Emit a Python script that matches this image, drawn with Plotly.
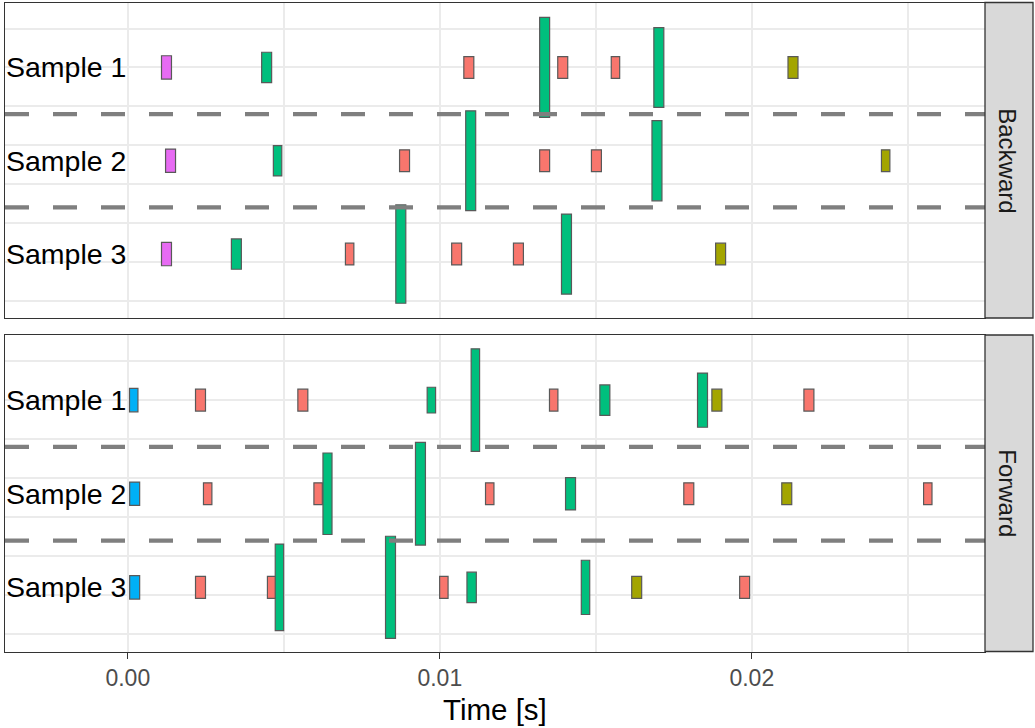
import plotly.graph_objects as go

# ---------------- data ----------------
samples = ["Sample 1", "Sample 2", "Sample 3"]
facets = ["Backward", "Forward"]
kind_colors = {"A": "#F8766D", "B": "#A3A500", "C": "#00BF7D", "D": "#00B0F6", "E": "#E76BF3"}

# Backward facet
bw_sample = [1, 1, 1, 1, 1, 1, 1, 1,
             2, 2, 2, 2, 2, 2, 2, 2,
             3, 3, 3, 3, 3, 3, 3, 3]
bw_kind = ["E", "C", "A", "C", "A", "A", "C", "B",
           "E", "C", "A", "C", "A", "A", "C", "B",
           "E", "C", "A", "C", "A", "A", "C", "B"]
bw_time = [0.00124, 0.00445, 0.01093, 0.01336, 0.01394, 0.01563, 0.01702, 0.02132,
           0.00137, 0.00480, 0.00887, 0.01099, 0.01336, 0.01502, 0.01696, 0.02429,
           0.00124, 0.00348, 0.00711, 0.00875, 0.01054, 0.01252, 0.01406, 0.01900]
bw_dur = [0.00032, 0.00032, 0.00032, 0.00032, 0.00032, 0.00027, 0.00032, 0.00032,
          0.00032, 0.00027, 0.00032, 0.00032, 0.00032, 0.00032, 0.00032, 0.00027,
          0.00032, 0.00032, 0.00027, 0.00032, 0.00032, 0.00032, 0.00032, 0.00032]
bw_amp = [0.30, 0.39, 0.28, 1.285, 0.28, 0.28, 1.025, 0.28,
          0.30, 0.39, 0.28, 1.285, 0.28, 0.28, 1.03, 0.28,
          0.30, 0.39, 0.28, 1.265, 0.28, 0.28, 1.03, 0.28]

# Forward facet
fw_sample = [1, 1, 1, 1, 1, 1, 1, 1, 1, 1,
             2, 2, 2, 2, 2, 2, 2, 2, 2, 2,
             3, 3, 3, 3, 3, 3, 3, 3, 3, 3]
fw_kind = ["D", "A", "A", "C", "C", "A", "C", "C", "B", "A",
           "D", "A", "A", "C", "C", "A", "C", "A", "B", "A",
           "D", "A", "A", "C", "C", "A", "C", "C", "B", "A"]
fw_time = [0.00019, 0.00233, 0.00561, 0.00973, 0.01114, 0.01365, 0.01529, 0.01842, 0.01888, 0.02183,
           0.00022, 0.00256, 0.00610, 0.00640, 0.00938, 0.01160, 0.01419, 0.01798, 0.02112, 0.02564,
           0.00022, 0.00233, 0.00461, 0.00486, 0.00842, 0.01013, 0.01102, 0.01467, 0.01631, 0.01977]
fw_dur = [0.00027, 0.00032, 0.00032, 0.00027, 0.00027, 0.00027, 0.00032, 0.00032, 0.00032, 0.00032,
          0.00032, 0.00027, 0.00027, 0.00029, 0.00032, 0.00027, 0.00032, 0.00032, 0.00032, 0.00027,
          0.00032, 0.00032, 0.00027, 0.00027, 0.00032, 0.00027, 0.00030, 0.00027, 0.00032, 0.00032]
fw_amp = [0.30, 0.28, 0.28, 0.33, 1.315, 0.28, 0.39, 0.695, 0.28, 0.28,
          0.30, 0.28, 0.28, 1.045, 1.315, 0.28, 0.415, 0.28, 0.28, 0.28,
          0.30, 0.28, 0.28, 1.11, 1.31, 0.28, 0.39, 0.695, 0.28, 0.28]

sample_y = {1: 0.0, 2: -1.2, 3: -2.4}
separators = [-0.6, -1.8]

# ---------------- layout geometry ----------------
W, H = 1035, 728
x_dom = [5 / W, 985 / W]
top_dom = [1 - 318 / H, 1 - 2.5 / H]
bot_dom = [1 - 651.5 / H, 1 - 335 / H]
x_range = [-0.003936, 0.027474]
y_range = [-3.222, 0.835]

fig = go.Figure()

# dashed separators between samples (drawn first, below the rectangles)
for xa, ya in [("x2", "y2"), ("x", "y")]:
    for s in separators:
        fig.add_trace(go.Scatter(
            x=[x_range[0], x_range[1]], y=[s, s], mode="lines",
            xaxis=xa, yaxis=ya, showlegend=False, hoverinfo="skip",
            line=dict(color="#7F7F7F", width=4.3, dash="24px,24px")))

def add_facet(xa, ya, smp, kind, time, dur, amp):
    for k, col in kind_colors.items():
        idx = [i for i, kk in enumerate(kind) if kk == k]
        if not idx:
            continue
        xs = [time[i] for i in idx]
        ws = [dur[i] for i in idx]
        hs = [amp[i] for i in idx]
        bs = [sample_y[smp[i]] - amp[i] / 2 for i in idx]
        fig.add_trace(go.Bar(
            x=xs, y=hs, base=bs, width=ws, xaxis=xa, yaxis=ya,
            marker=dict(color=col, line=dict(color="#595959", width=1.2)),
            showlegend=False, hoverinfo="skip"))

# top panel = Backward (x2,y2); bottom = Forward (x,y)
add_facet("x2", "y2", bw_sample, bw_kind, bw_time, bw_dur, bw_amp)
add_facet("x", "y", fw_sample, fw_kind, fw_time, fw_dur, fw_amp)

grid = "#EBEBEB"
axis_common = dict(showline=True, mirror=True, linecolor="#333333", linewidth=1.3,
                   zeroline=False, showgrid=True, gridcolor=grid, gridwidth=1.6)

fig.update_layout(
    width=W, height=H, margin=dict(l=0, r=0, t=0, b=0),
    paper_bgcolor="white", plot_bgcolor="white", barmode="overlay",
    font=dict(family="Liberation Sans, Arial, sans-serif"),
    xaxis=dict(domain=x_dom, range=x_range, anchor="y", tick0=0, dtick=0.01, tickformat=".2f",
               ticks="outside", ticklen=6, tickcolor="#333333", tickwidth=1.3,
               tickfont=dict(size=23, color="#4D4D4D"),
               minor=dict(dtick=0.005, tick0=0, showgrid=True, gridcolor=grid, gridwidth=1.6, ticks=""),
               **axis_common),
    yaxis=dict(domain=bot_dom, range=y_range, anchor="x", tick0=0, dtick=1, showticklabels=False,
               ticks="", minor=dict(dtick=0.5, tick0=0, showgrid=True, gridcolor=grid, gridwidth=1.6),
               **axis_common),
    xaxis2=dict(domain=x_dom, range=x_range, anchor="y2", matches="x", tick0=0, dtick=0.01,
                showticklabels=False, ticks="",
                minor=dict(dtick=0.005, tick0=0, showgrid=True, gridcolor=grid, gridwidth=1.6),
                **axis_common),
    yaxis2=dict(domain=top_dom, range=y_range, anchor="x2", tick0=0, dtick=1, showticklabels=False,
                ticks="", minor=dict(dtick=0.5, tick0=0, showgrid=True, gridcolor=grid, gridwidth=1.6),
                **axis_common),
)

shapes = []
annotations = []
for xa, ya in [("x", "y"), ("x2", "y2")]:
    for i, name in enumerate(samples):
        annotations.append(dict(text=name, xref=xa, yref=ya, x=0, y=sample_y[i + 1],
                                xanchor="right", yanchor="middle", showarrow=False,
                                font=dict(size=28.5, color="black")))

# strips
for dom, label in [(top_dom, facets[0]), (bot_dom, facets[1])]:
    shapes.append(dict(type="rect", xref="paper", yref="paper", x0=985 / W, x1=1033 / W,
                       y0=dom[0], y1=dom[1], fillcolor="#D9D9D9",
                       line=dict(color="#333333", width=1.3), layer="above"))
    annotations.append(dict(text=label, xref="paper", yref="paper", x=1008 / W, y=(dom[0] + dom[1]) / 2,
                            xanchor="center", yanchor="middle", textangle=90, showarrow=False,
                            font=dict(size=24, color="#1A1A1A")))

annotations.append(dict(text="Time [s]", xref="paper", yref="paper", x=(x_dom[0] + x_dom[1]) / 2,
                        y=1 - 709 / H, xanchor="center", yanchor="middle", showarrow=False,
                        font=dict(size=29.5, color="black")))

fig.update_layout(shapes=shapes, annotations=annotations)
fig.write_html("out.html")
